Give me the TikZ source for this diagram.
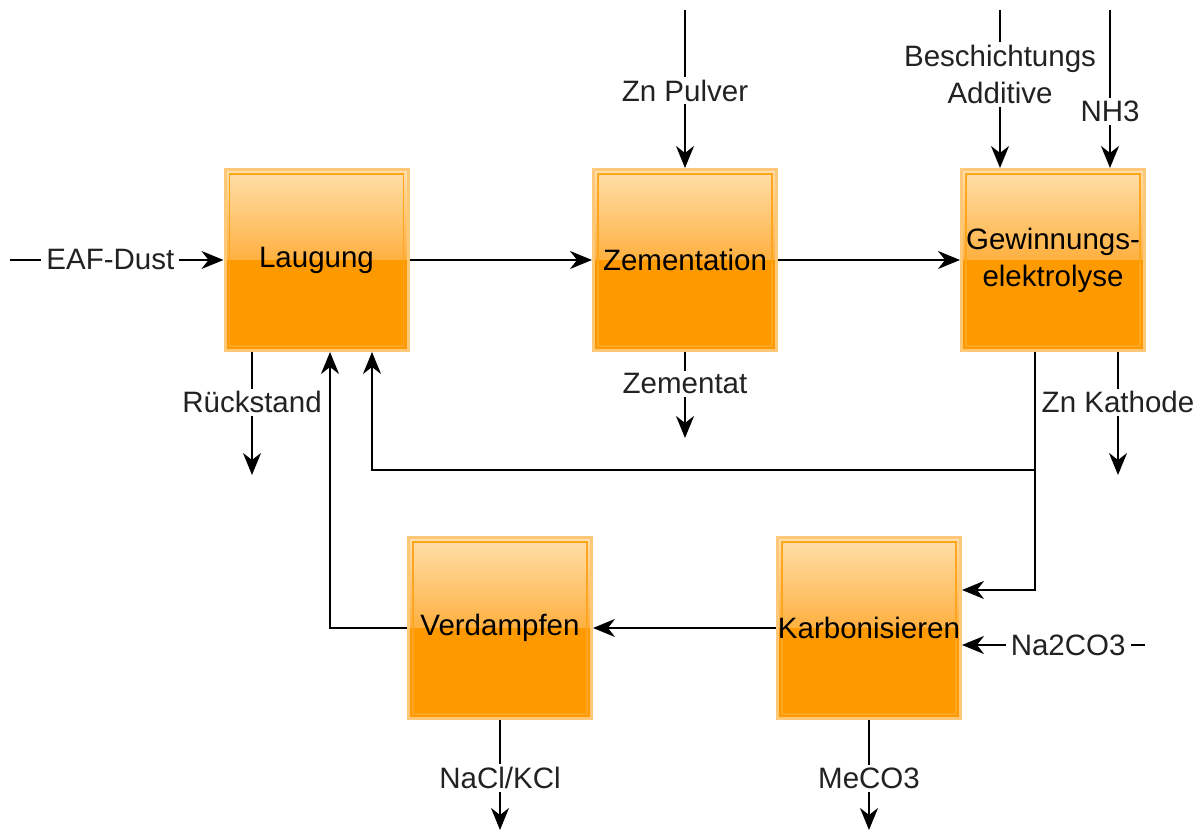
\documentclass[tikz,border=0pt]{standalone}
\usepackage{fontspec}
\setmainfont{Liberation Sans}
\usetikzlibrary{arrows.meta}
\definecolor{orTop}{RGB}{255,224,172}
\definecolor{orMid}{RGB}{255,176,64}
\definecolor{orMain}{RGB}{255,153,0}
\definecolor{orRim}{RGB}{255,200,120}
\definecolor{orLine}{RGB}{255,165,30}
\definecolor{labelgray}{RGB}{34,34,34}
\begin{document}
\begin{tikzpicture}[x=1pt,y=1pt,
  font=\fontsize{29.5}{37}\selectfont,
  stage/.style={rectangle, minimum width=183pt, minimum height=181pt,
    inner sep=0pt, align=center, text=black,
    draw=orRim, line width=3pt,
    path picture={
      \fill[orMain] (path picture bounding box.south west) rectangle (path picture bounding box.east);
      \shade[top color=orTop, bottom color=orMid] (path picture bounding box.west) rectangle (path picture bounding box.north east);
      \draw[orLine, line width=1.2pt] ([shift={(4.5pt,4.5pt)}]path picture bounding box.south west) rectangle ([shift={(-4.5pt,-4.5pt)}]path picture bounding box.north east);
    }},
  flow/.style={draw=black, line width=2pt, -{Stealth[length=22pt,width=18pt,inset=7pt]}},
  tag/.style={fill=white, text=labelgray, inner xsep=5pt, inner ysep=3pt, align=center}]
\useasboundingbox (0,0) rectangle (1200,834);

% process stages
\node[stage] (laug) at (316.5,574) {\raisebox{-3pt}{Laugung}};
\node[stage] (zem)  at (685,574)   {\raisebox{-3pt}{Zementation}};
\node[stage] (gew)  at (1053,574)  {Gewinnungs-\\elektrolyse};
\node[stage] (verd) at (500,206)   {\raisebox{-3pt}{Verdampfen}};
\node[stage] (karb) at (869,206)   {\raisebox{-3pt}{Karbonisieren}};

% free ends of the feed and product lines
\coordinate (eaf)   at (10,574);
\coordinate (znp)   at (685,824);
\coordinate (besch) at (1000,824);
\coordinate (nh3)   at (1110,824);
\coordinate (rueck) at (252,359);
\coordinate (zemat) at (685,396);
\coordinate (kath)  at (1118,359);
\coordinate (soda)  at (1145,189);
\coordinate (salt)  at (500,4);
\coordinate (meco)  at (869,4);

% bends of the recycle loops
\coordinate (j1) at (1035,364);
\coordinate (r1) at (372,364);
\coordinate (k1) at (1035,244);
\coordinate (v1) at (330,206);

% main line
\draw[flow] (laug) -- (zem);
\draw[flow] (zem) -- (gew);

% feeds
\draw[flow] (eaf) -- (laug.west) node[tag, pos=0.47] {EAF-Dust};
\draw[flow] (znp) -- (zem.north) node[tag, pos=0.51] {Zn Pulver};
\draw[flow] (besch) -- (gew.north -| besch) node[tag, pos=0.41] {Beschichtungs\\Additive};
\draw[flow] (nh3) -- (gew.north -| nh3) node[tag, pos=0.64] {NH3};
\draw[flow] (soda) -- (karb.east |- soda) node[tag, pos=0.42] {Na2CO3};

% products
\draw[flow] (laug.south -| rueck) -- (rueck) node[tag, pos=0.41] {Rückstand};
\draw[flow] (zem.south) -- (zemat) node[tag, pos=0.37] {Zementat};
\draw[flow] (gew.south -| kath) -- (kath) node[tag, pos=0.41] {Zn Kathode};
\draw[flow] (verd.south) -- (salt) node[tag, pos=0.53] {NaCl/KCl};
\draw[flow] (karb.south) -- (meco) node[tag, pos=0.53] {MeCO3};

% recycle loops
\draw[flow] (gew.south -| j1) -- (j1) -- (r1) -- (laug.south -| r1);
\draw[flow] (j1) -- (k1) -- (karb.east |- k1);
\draw[flow] (karb) -- (verd);
\draw[flow] (verd.west) -- (v1) -- (laug.south -| v1);
\end{tikzpicture}
\end{document}
